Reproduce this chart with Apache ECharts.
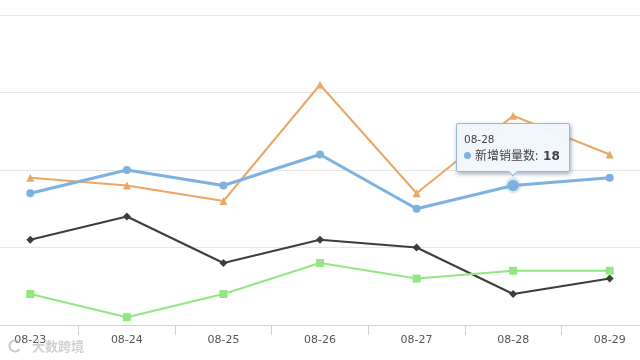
<!DOCTYPE html>
<html><head><meta charset="utf-8">
<style>html,body{margin:0;padding:0;background:#fff}#c{width:640px;height:360px}</style>
<script src="https://cdn.jsdelivr.net/npm/echarts@6/dist/echarts.min.js"></script>
</head><body><div id="c"></div>
<script>
const categories = ['08-23','08-24','08-25','08-26','08-27','08-28','08-29'];
const blueValues = [17,20,18,22,15,18,19];
const orangeValues = [19,18,16,31,17,27,22];
const darkValues = [11,14,8,11,10,4,6];
const greenValues = [4,1,4,8,6,7,7];
const tipSeriesName = '新增销量数';
const cjkFont = '"Noto Sans CJK SC","Noto Sans",sans-serif';
const latinFont = '"DejaVu Sans",sans-serif';
const chart = echarts.init(document.getElementById('c'), null, {renderer:'canvas'});
function line(name,data,color,symbol,size,width,z){
  return {name,type:'line',data,z,symbol,symbolSize:size,showSymbol:true,smooth:false,
    lineStyle:{color,width},itemStyle:{color},
    emphasis:{scale:1.45,lineStyle:{width,color},itemStyle:{color,borderColor:'rgba(125,178,228,0.25)',borderWidth:5}}};
}
const q = s => s.replace(/"/g,"'");
chart.setOption({
  animation:false,
  backgroundColor:'#fff',
  grid:{outerBoundsMode:'none',left:-18,right:-18,top:15,bottom:35,containLabel:false},
  tooltip:{trigger:'item',position:'top',transitionDuration:0,
    backgroundColor:'rgba(240,247,253,0.96)',borderColor:'#8fb9de',borderWidth:1,padding:[9,9,8,7],
    extraCssText:'box-shadow:1px 2px 4px rgba(70,90,120,0.5);border-radius:2px;',
    formatter:p=>'<div style="font:10.5px/13px '+q(latinFont)+';color:#444">'+p.name+'</div>'+
      '<div style="font:12px/17px '+q(cjkFont)+';color:#444;white-space:nowrap"><span style="display:inline-block;width:7px;height:7px;border-radius:50%;background:#7db2e4;margin-right:4px;vertical-align:1px"></span>'+p.seriesName+': <b style="font:600 12px '+q(latinFont)+';margin-left:2px">'+p.value+'</b></div>'
  },
  xAxis:{type:'category',data:categories,boundaryGap:true,
    axisLine:{lineStyle:{color:'#ccd3e0',width:1}},
    axisTick:{show:true,length:10,lineStyle:{color:'#ccd3e0'},alignWithLabel:false},
    axisLabel:{color:'#555',fontSize:11,fontFamily:latinFont,margin:9.5,interval:0}},
  yAxis:{type:'value',min:0,max:40,interval:10,
    axisLine:{show:false},axisTick:{show:false},axisLabel:{show:false},
    splitLine:{lineStyle:{color:'#e6e6e6',width:1}}},
  graphic:[
    {type:'arc',silent:true,z:100,shape:{cx:15,cy:346,r:5.5,startAngle:0.6,endAngle:5.6},
     style:{stroke:'rgba(175,175,175,0.65)',fill:null,lineWidth:2}},
    {type:'text',left:32,top:340,silent:true,z:100,
     style:{text:'大数跨境',fill:'rgba(170,170,170,0.55)',font:'bold 13px '+cjkFont}}],
  series:[
    line('订单量',orangeValues,'#eaa866','triangle',8,2,2),
    line('销售量',darkValues,'#3d3d3d','diamond',8,2,3),
    line('新增量',greenValues,'#93e783','rect',8,2,4),
    line(tipSeriesName,blueValues,'#7db2e0','circle',8,3,5)
  ]
});
chart.dispatchAction({type:'highlight',seriesIndex:3,dataIndex:5});
chart.dispatchAction({type:'showTip',seriesIndex:3,dataIndex:5});
</script></body></html>
